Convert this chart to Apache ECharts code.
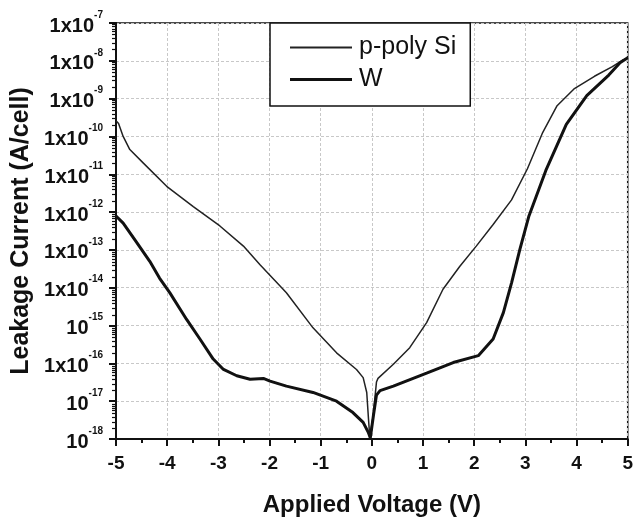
<!DOCTYPE html>
<html>
<head>
<meta charset="utf-8">
<script src="https://cdn.jsdelivr.net/npm/echarts@6/dist/echarts.min.js"></script>
<style>
html,body{margin:0;padding:0;background:#fff;}
#chart{width:636px;height:522px;}
</style>
</head>
<body>
<div id="chart"></div>
<script>
// ---- data ----
var seriesNames = ['p-poly Si', 'W'];

var polyV = [-5.00, -4.95, -4.86, -4.73, -4.47, -4.01, -3.49, -2.97, -2.51, -2.19, -1.67, -1.15, -0.69, -0.30, -0.17, -0.10, -0.07, -0.04, 0.025, 0.09, 0.12, 0.42, 0.74, 1.07, 1.39, 1.72, 2.04, 2.37, 2.73, 3.04, 3.33, 3.62, 3.95, 4.35, 4.70, 4.90, 5.00];
var polyI = [2.6e-10, 2.2e-10, 1.0e-10, 4.5e-11, 2.0e-11, 4.8e-12, 1.4e-12, 4.3e-13, 1.26e-13, 4.1e-14, 7.4e-15, 8.7e-16, 1.9e-16, 6.9e-17, 4.2e-17, 1.7e-17, 4.1e-18, 1.1e-18, 4.1e-18, 3.2e-17, 4.0e-17, 9.5e-17, 2.6e-16, 1.2e-15, 9.1e-15, 3.7e-14, 1.26e-13, 4.7e-13, 2.1e-12, 1.4e-11, 1.2e-10, 6.5e-10, 1.8e-9, 3.9e-9, 7.0e-9, 1.05e-8, 1.17e-8];

var wV = [-5.00, -4.86, -4.60, -4.34, -4.15, -3.95, -3.62, -3.36, -3.10, -2.90, -2.64, -2.38, -2.12, -1.99, -1.67, -1.15, -0.69, -0.37, -0.17, -0.07, -0.03, 0.03, 0.09, 0.16, 0.42, 1.07, 1.59, 2.08, 2.37, 2.57, 2.73, 2.89, 3.07, 3.40, 3.80, 4.20, 4.63, 4.85, 5.00];
var wI = [7.9e-13, 5.1e-13, 1.6e-13, 5.0e-14, 1.8e-14, 7.4e-15, 1.45e-15, 4.4e-16, 1.3e-16, 6.9e-17, 4.7e-17, 3.8e-17, 4.0e-17, 3.4e-17, 2.5e-17, 1.7e-17, 1.0e-17, 5.0e-18, 2.75e-18, 1.5e-18, 1.07e-18, 4.1e-18, 1.45e-17, 1.9e-17, 2.5e-17, 5.5e-17, 1.05e-16, 1.6e-16, 4.4e-16, 2.2e-15, 1.35e-14, 1.0e-13, 7.9e-13, 1.26e-11, 2.1e-10, 1.2e-9, 4.2e-9, 8.9e-9, 1.2e-8];

// y tick labels, from 1e-18 up to 1e-7
var yTickExps  = ['-18', '-17', '-16', '-15', '-14', '-13', '-12', '-11', '-10', '-9', '-8', '-7'];
var yTickBases = ['10', '10', '1x10', '10', '1x10', '1x10', '1x10', '1x10', '1x10', '1x10', '1x10', '1x10'];
var xTicks = [-5, -4, -3, -2, -1, 0, 1, 2, 3, 4, 5];

var xTitle = 'Applied Voltage (V)';
var yTitle = 'Leakage Current (A/cell)';

function pairs(xs, ys) { return xs.map(function (x, i) { return [x, ys[i]]; }); }

// log-axis minor tick positions (decade exponent + log10(2..9)), decoration only
var yMinorTicks = [];
for (var k = -18; k < -7; k++) {
  for (var m = 2; m <= 9; m++) yMinorTicks.push(k + Math.log10(m));
}

var FONT = '"Liberation Sans", Arial, Helvetica, sans-serif';
var chart = echarts.init(document.getElementById('chart'), null, {renderer: 'canvas'});

var yRich = {
  b: {fontFamily: FONT, fontSize: 20, fontWeight: 'bold', color: '#111', lineHeight: 19, verticalAlign: 'bottom'},
  s: {fontFamily: FONT, fontSize: 10, fontWeight: 'bold', color: '#111', lineHeight: 10, padding: [0, 0, 16, 0], verticalAlign: 'bottom'}
};

chart.setOption({
  backgroundColor: '#fff',
  animation: false,
  grid: [
    {left: 116, right: 8, top: 23, bottom: 82, show: true, borderColor: '#111', borderWidth: 1.5, backgroundColor: 'transparent'},
    {left: 116, right: 8, top: 23, bottom: 82, show: false}
  ],
  legend: {
    data: [
      {name: seriesNames[0], icon: 'path://M0,0H62V1.8H0Z', itemStyle: {color: '#222'}},
      {name: seriesNames[1], icon: 'path://M0,0H62V3.2H0Z', itemStyle: {color: '#111'}}
    ],
    orient: 'vertical',
    left: 270, top: 23,
    padding: [12, 14, 14, 20],
    itemWidth: 62, itemHeight: 14, itemGap: 7,
    borderColor: '#111', borderWidth: 1.5,
    backgroundColor: '#fff',
    textStyle: {fontFamily: FONT, fontSize: 25, color: '#111', lineHeight: 25, padding: [0, 0, 0, 2]}
  },
  xAxis: [
    {
      gridIndex: 0,
      type: 'value', min: xTicks[0], max: xTicks[xTicks.length - 1], interval: 1,
      name: xTitle, nameLocation: 'middle', nameGap: 54,
      nameTextStyle: {fontFamily: FONT, fontSize: 24, fontWeight: 'bold', color: '#111'},
      axisLine: {show: true, onZero: false, lineStyle: {color: '#111', width: 2}},
      axisTick: {show: true, inside: false, length: 7, lineStyle: {color: '#111', width: 2}},
      minorTick: {show: true, splitNumber: 2, length: 4, lineStyle: {color: '#111', width: 2}},
      axisLabel: {margin: 15, fontFamily: FONT, fontSize: 19, fontWeight: 'bold', color: '#111'},
      splitLine: {show: true, lineStyle: {color: '#c8c8c8', type: [3, 2], width: 1}}
    },
    {
      gridIndex: 1, type: 'value', min: 0, max: 1, show: false
    }
  ],
  yAxis: [
    {
      gridIndex: 0,
      type: 'log', logBase: 10, min: 1e-18, max: 1e-7, interval: 1,
      name: yTitle, nameLocation: 'middle', nameGap: 80, nameRotate: 90,
      nameTextStyle: {fontFamily: FONT, fontSize: 25, fontWeight: 'bold', color: '#111'},
      axisLine: {show: true, onZero: false, lineStyle: {color: '#111', width: 2}},
      axisTick: {show: true, inside: false, length: 7, lineStyle: {color: '#111', width: 2}},
      axisLabel: {
        margin: 13,
        padding: [7, 0, 0, 0],
        formatter: function (v) {
          var e = Math.round(Math.log10(v));
          var idx = yTickExps.indexOf(String(e));
          if (idx < 0) return '';
          return '{b|' + yTickBases[idx] + '}{s|' + yTickExps[idx] + '}';
        },
        rich: yRich
      },
      splitLine: {show: true, lineStyle: {color: '#c8c8c8', type: [3, 2], width: 1}}
    },
    {
      // decoration axis in an overlaid grid, carrying the log minor ticks
      gridIndex: 1,
      type: 'value', min: -18, max: -7, position: 'left',
      axisLine: {show: true, onZero: false, lineStyle: {color: '#111', width: 2}},
      axisTick: {show: true, inside: false, length: 4, customValues: yMinorTicks, lineStyle: {color: '#111', width: 1.2}},
      axisLabel: {show: false},
      splitLine: {show: false}
    }
  ],
  series: [
    {
      name: seriesNames[0], type: 'line', data: pairs(polyV, polyI),
      xAxisIndex: 0, yAxisIndex: 0,
      symbol: 'none', smooth: false,
      lineStyle: {color: '#222', width: 1.5},
      itemStyle: {color: '#222'}
    },
    {
      name: seriesNames[1], type: 'line', data: pairs(wV, wI),
      xAxisIndex: 0, yAxisIndex: 0,
      symbol: 'none', smooth: false,
      lineStyle: {color: '#111', width: 3},
      itemStyle: {color: '#111'}
    }
  ]
});
</script>
</body>
</html>
